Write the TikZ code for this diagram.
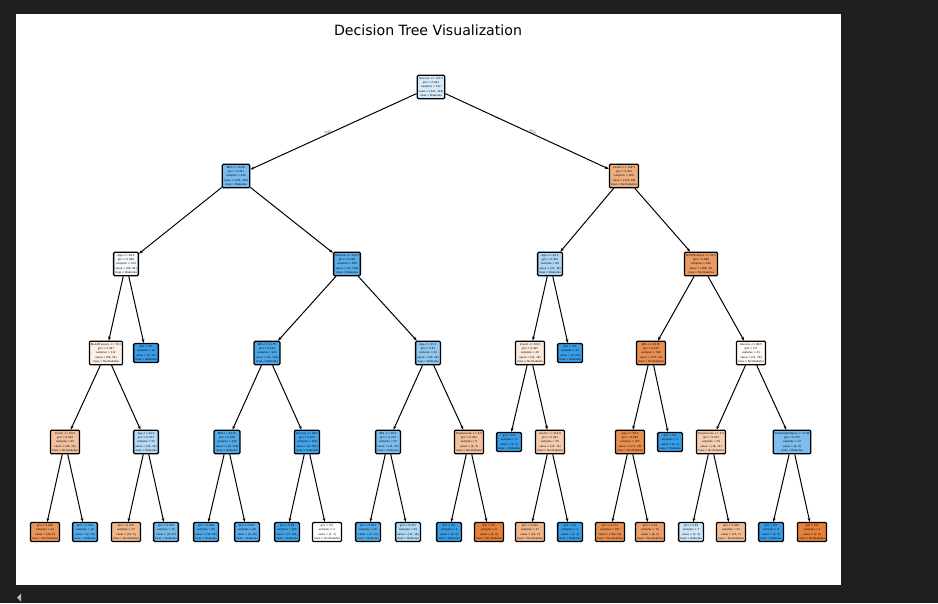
\documentclass[tikz,border=0pt]{standalone}
\usepackage{fontspec}
\setmainfont{DejaVu Sans}
\usetikzlibrary{arrows.meta}
\definecolor{cno}{HTML}{E58139}
\definecolor{cyes}{HTML}{399DE5}
\definecolor{bgdark}{HTML}{1F1F1F}
\begin{document}
\begin{tikzpicture}[x=0.75pt,y=-0.75pt,
  tn/.style={draw=black, line width=0.95pt, rounded corners=0.8pt, align=center, inner xsep=1.1pt, inner ysep=1.3pt, font=\fontsize{1.95}{3.35}\selectfont},
  edge/.style={-{Stealth[length=3pt,width=2.2pt]}, line width=0.75pt, draw=black},
  elab/.style={font=\fontsize{2.2}{3}\selectfont, sloped, above, inner sep=0.4pt, text=black!75}]
\useasboundingbox (0,0) rectangle (938,603);
\fill[bgdark] (0,0) rectangle (938,603);
\fill[white] (16,14) rectangle (841,585);
\fill[gray!55] (21,593.5) -- (17,597.5) -- (21,601.5) -- cycle;
\node[font=\fontsize{10.6}{12}\selectfont] (title) at (428,30) {Decision Tree Visualization};
% level 0
\node[tn, fill=cyes!21!white] (n0) at (431,87) {Glucose <= 123.5\\gini = 0.493\\samples = 732\\value = [322, 410]\\class = Diabetes};
% level 1
\node[tn, fill=cyes!69!white] (n1) at (236,176) {BMI <= 30.95\\gini = 0.361\\samples = 432\\value = [102, 330]\\class = Diabetes};
\node[tn, fill=cno!64!white] (n2) at (624,176) {Insulin <= 142.5\\gini = 0.391\\samples = 300\\value = [220, 80]\\class = No Diabetes};
% level 2
\node[tn, fill=cyes!6!white] (n3) at (126,264) {Age <= 28.5\\gini = 0.499\\samples = 124\\value = [60, 64]\\class = Diabetes};
\node[tn, fill=cyes!84!white] (n4) at (347,264) {Glucose <= 105.5\\gini = 0.236\\samples = 308\\value = [42, 266]\\class = Diabetes};
\node[tn, fill=cyes!42!white] (n5) at (550,264) {Age <= 42.5\\gini = 0.464\\samples = 60\\value = [22, 38]\\class = Diabetes};
\node[tn, fill=cno!79!white] (n6) at (701,264) {SkinThickness <= 31.5\\gini = 0.289\\samples = 240\\value = [198, 42]\\class = No Diabetes};
% level 3
\node[tn, fill=cno!13!white] (n7) at (106,353) {BloodPressure <= 72.0\\gini = 0.497\\samples = 112\\value = [60, 52]\\class = No Diabetes};
\node[tn, fill=cyes] (n8) at (146,353) {gini = 0.0\\samples = 12\\value = [0, 12]\\class = Diabetes};
\node[tn, fill=cyes!90!white] (n9) at (267,353) {BMI <= 41.75\\gini = 0.164\\samples = 244\\value = [22, 222]\\class = Diabetes};
\node[tn, fill=cyes!55!white] (n10) at (428,353) {Age <= 35.5\\gini = 0.43\\samples = 64\\value = [20, 44]\\class = Diabetes};
\node[tn, fill=cno!18!white] (n11) at (530,353) {Insulin <= 60.0\\gini = 0.495\\samples = 40\\value = [22, 18]\\class = No Diabetes};
\node[tn, fill=cyes] (n12) at (570,353) {gini = 0.0\\samples = 20\\value = [0, 20]\\class = Diabetes};
\node[tn, fill=cno!88!white] (n13) at (651,353) {BMI <= 36.55\\gini = 0.197\\samples = 199\\value = [177, 22]\\class = No Diabetes};
\node[tn, fill=cno!5!white] (n14) at (751,353) {Glucose <= 88.5\\gini = 0.5\\samples = 41\\value = [21, 20]\\class = No Diabetes};
% level 4
\node[tn, fill=cno!50!white] (n15) at (65,442) {Insulin <= 94.5\\gini = 0.444\\samples = 60\\value = [40, 20]\\class = No Diabetes};
\node[tn, fill=cyes!38!white] (n16) at (146,442) {Age <= 24.5\\gini = 0.473\\samples = 52\\value = [20, 32]\\class = Diabetes};
\node[tn, fill=cyes!87!white] (n17) at (227,442) {BMI <= 34.15\\gini = 0.208\\samples = 136\\value = [16, 120]\\class = Diabetes};
\node[tn, fill=cyes!94!white] (n18) at (307,442) {Glucose <= 80.0\\gini = 0.105\\samples = 108\\value = [6, 102]\\class = Diabetes};
\node[tn, fill=cyes!66!white] (n19) at (388,442) {BMI <= 25.8\\gini = 0.379\\samples = 55\\value = [14, 41]\\class = Diabetes};
\node[tn, fill=cno!50!white] (n20) at (469,442) {Pregnancies <= 6.5\\gini = 0.444\\samples = 9\\value = [6, 3]\\class = No Diabetes};
\node[tn, fill=cyes] (n21) at (509,442) {gini = 0.0\\samples = 5\\value = [0, 5]\\class = Diabetes};
\node[tn, fill=cno!41!white] (n22) at (550,442) {Insulin <= 210.0\\gini = 0.467\\samples = 35\\value = [22, 13]\\class = No Diabetes};
\node[tn, fill=cno!89!white] (n23) at (630,442) {Age <= 56.5\\gini = 0.182\\samples = 197\\value = [177, 20]\\class = No Diabetes};
\node[tn, fill=cyes] (n24) at (670,442) {gini = 0.0\\samples = 2\\value = [0, 2]\\class = Diabetes};
\node[tn, fill=cno!39!white] (n25) at (711,442) {Pregnancies <= 2.5\\gini = 0.471\\samples = 29\\value = [18, 11]\\class = No Diabetes};
\node[tn, fill=cyes!67!white] (n26) at (792,442) {DiabetesPedigree <= 0.38\\gini = 0.375\\samples = 12\\value = [3, 9]\\class = Diabetes};
% level 5 (leaves)
\node[tn, fill=cno!84!white] (a1) at (45,532) {gini = 0.236\\samples = 44\\value = [38, 6]\\class = No Diabetes};
\node[tn, fill=cyes!86!white] (a2) at (85,532) {gini = 0.219\\samples = 16\\value = [2, 14]\\class = Diabetes};
\node[tn, fill=cno!58!white] (a3) at (126,532) {gini = 0.415\\samples = 17\\value = [12, 5]\\class = No Diabetes};
\node[tn, fill=cyes!70!white] (a4) at (166,532) {gini = 0.353\\samples = 35\\value = [8, 27]\\class = Diabetes};
\node[tn, fill=cyes!88!white] (a5) at (206,532) {gini = 0.198\\samples = 90\\value = [10, 80]\\class = Diabetes};
\node[tn, fill=cyes!85!white] (a6) at (247,532) {gini = 0.227\\samples = 46\\value = [6, 40]\\class = Diabetes};
\node[tn, fill=cyes!95!white] (a7) at (287,532) {gini = 0.09\\samples = 106\\value = [5, 101]\\class = Diabetes};
\node[tn, fill=white] (a8) at (327,532) {gini = 0.5\\samples = 2\\value = [1, 1]\\class = No Diabetes};
\node[tn, fill=cyes!87!white] (a9) at (368,532) {gini = 0.204\\samples = 26\\value = [3, 23]\\class = Diabetes};
\node[tn, fill=cyes!39!white] (a10) at (408,532) {gini = 0.471\\samples = 29\\value = [11, 18]\\class = Diabetes};
\node[tn, fill=cyes] (a11) at (449,532) {gini = 0.0\\samples = 3\\value = [0, 3]\\class = Diabetes};
\node[tn, fill=cno] (a12) at (489,532) {gini = 0.0\\samples = 6\\value = [6, 0]\\class = No Diabetes};
\node[tn, fill=cno!59!white] (a13) at (530,532) {gini = 0.412\\samples = 31\\value = [22, 9]\\class = No Diabetes};
\node[tn, fill=cyes] (a14) at (570,532) {gini = 0.0\\samples = 4\\value = [0, 4]\\class = Diabetes};
\node[tn, fill=cno!89!white] (a15) at (610,532) {gini = 0.174\\samples = 187\\value = [169, 18]\\class = No Diabetes};
\node[tn, fill=cno!75!white] (a16) at (650,532) {gini = 0.32\\samples = 10\\value = [8, 2]\\class = No Diabetes};
\node[tn, fill=cyes!25!white] (a17) at (691,532) {gini = 0.49\\samples = 7\\value = [3, 4]\\class = Diabetes};
\node[tn, fill=cno!53!white] (a18) at (731,532) {gini = 0.434\\samples = 22\\value = [15, 7]\\class = No Diabetes};
\node[tn, fill=cyes] (a19) at (771,532) {gini = 0.0\\samples = 9\\value = [0, 9]\\class = Diabetes};
\node[tn, fill=cno] (a20) at (812,532) {gini = 0.0\\samples = 3\\value = [3, 0]\\class = No Diabetes};
% edges
\draw[edge] (n0) -- node[elab, pos=0.53] {True} (n1);
\draw[edge] (n0) -- node[elab, pos=0.53] {False} (n2);
\draw[edge] (n1) -- (n3);
\draw[edge] (n1) -- (n4);
\draw[edge] (n2) -- (n5);
\draw[edge] (n2) -- (n6);
\draw[edge] (n3) -- (n7);
\draw[edge] (n3) -- (n8);
\draw[edge] (n4) -- (n9);
\draw[edge] (n4) -- (n10);
\draw[edge] (n5) -- (n11);
\draw[edge] (n5) -- (n12);
\draw[edge] (n6) -- (n13);
\draw[edge] (n6) -- (n14);
\draw[edge] (n7) -- (n15);
\draw[edge] (n7) -- (n16);
\draw[edge] (n9) -- (n17);
\draw[edge] (n9) -- (n18);
\draw[edge] (n10) -- (n19);
\draw[edge] (n10) -- (n20);
\draw[edge] (n11) -- (n21);
\draw[edge] (n11) -- (n22);
\draw[edge] (n13) -- (n23);
\draw[edge] (n13) -- (n24);
\draw[edge] (n14) -- (n25);
\draw[edge] (n14) -- (n26);
\draw[edge] (n15) -- (a1);
\draw[edge] (n15) -- (a2);
\draw[edge] (n16) -- (a3);
\draw[edge] (n16) -- (a4);
\draw[edge] (n17) -- (a5);
\draw[edge] (n17) -- (a6);
\draw[edge] (n18) -- (a7);
\draw[edge] (n18) -- (a8);
\draw[edge] (n19) -- (a9);
\draw[edge] (n19) -- (a10);
\draw[edge] (n20) -- (a11);
\draw[edge] (n20) -- (a12);
\draw[edge] (n22) -- (a13);
\draw[edge] (n22) -- (a14);
\draw[edge] (n23) -- (a15);
\draw[edge] (n23) -- (a16);
\draw[edge] (n25) -- (a17);
\draw[edge] (n25) -- (a18);
\draw[edge] (n26) -- (a19);
\draw[edge] (n26) -- (a20);
\end{tikzpicture}
\end{document}
